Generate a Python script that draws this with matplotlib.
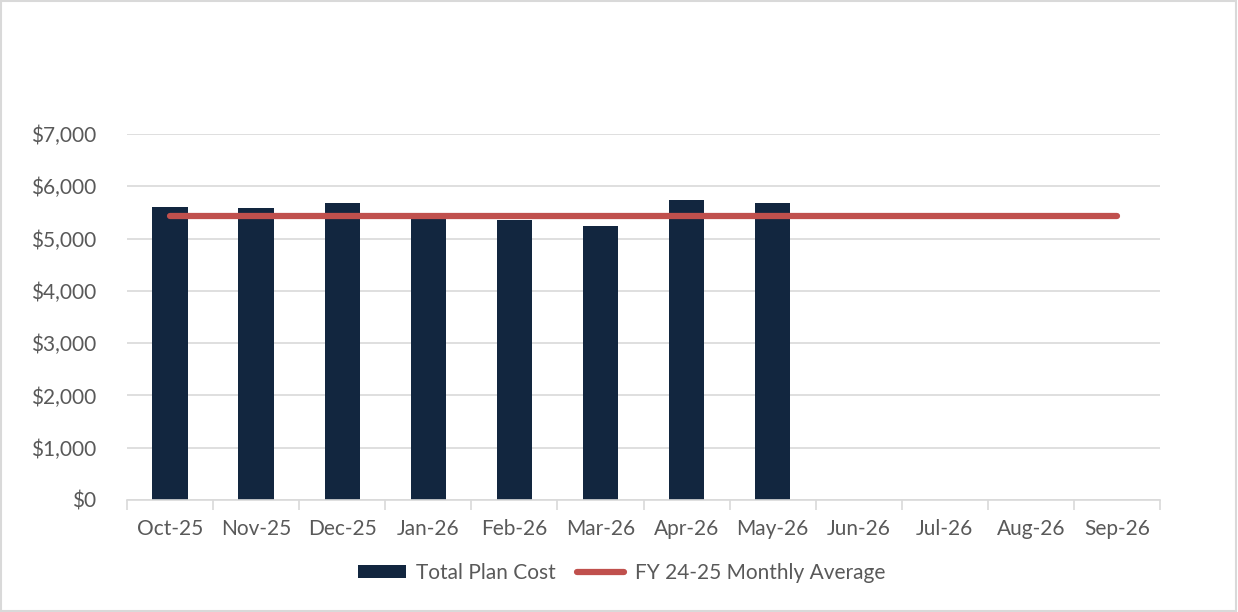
import matplotlib.pyplot as plt
import numpy as np

# data
months = ['Oct-25', 'Nov-25', 'Dec-25', 'Jan-26', 'Feb-26', 'Mar-26',
          'Apr-26', 'May-26', 'Jun-26', 'Jul-26', 'Aug-26', 'Sep-26']
plan_cost = [5610, 5590, 5680, 5400, 5350, 5240, 5740, 5680]
fy_avg = [5440] * 12

plt.rcParams['font.family'] = ['Lato', 'DejaVu Sans']
txt = '#595959'
grid_c = '#d9d9d9'

fig = plt.figure(figsize=(12.38, 6.12), dpi=100)
ax = fig.add_axes([127 / 1238, 1 - 500 / 612, (1160 - 127) / 1238, (500 - 134) / 612])

x = np.arange(len(months))
bars = ax.bar(x[:len(plan_cost)], plan_cost, width=0.41, color='#12263f',
              label='Total Plan Cost', zorder=2)
line, = ax.plot(x, fy_avg, color='#c0504d', lw=4.5, solid_capstyle='round',
                label='FY 24-25 Monthly Average', zorder=3)

ax.set_xlim(-0.5, len(months) - 0.5)
ax.set_ylim(0, 7000)
ax.set_yticks(range(0, 7001, 1000))
ax.set_yticklabels(['${:,}'.format(v) for v in range(0, 7001, 1000)],
                   fontsize=15, color=txt)
ax.yaxis.grid(True, color=grid_c, lw=1.2, zorder=0)
ax.tick_params(axis='y', length=0, pad=22)

ax.set_xticks(x)
ax.set_xticklabels(months, fontsize=15, color=txt)
ax.set_xticks(np.arange(-0.5, len(months)), minor=True)
ax.tick_params(axis='x', which='major', length=0, pad=14)
ax.tick_params(axis='x', which='minor', length=7, width=1.2, color=grid_c)

for s in ['top', 'right', 'left']:
    ax.spines[s].set_visible(False)
ax.spines['bottom'].set_color(grid_c)
ax.spines['bottom'].set_linewidth(1.2)

leg = fig.legend([bars, line], ['Total Plan Cost', 'FY 24-25 Monthly Average'],
                 loc='center', bbox_to_anchor=(0.502, 1 - 573 / 612), ncol=2,
                 frameon=False, fontsize=15, handlelength=2.3, handleheight=0.55,
                 handletextpad=0.5, columnspacing=1.0)
for t in leg.get_texts():
    t.set_color(txt)

# outer border
fig.patches.append(plt.Rectangle((0.001, 0.002), 0.997, 0.996,
                                 transform=fig.transFigure, fill=False,
                                 edgecolor='#d9d9d9', lw=1.5))

fig.savefig('out.png', dpi=100)
